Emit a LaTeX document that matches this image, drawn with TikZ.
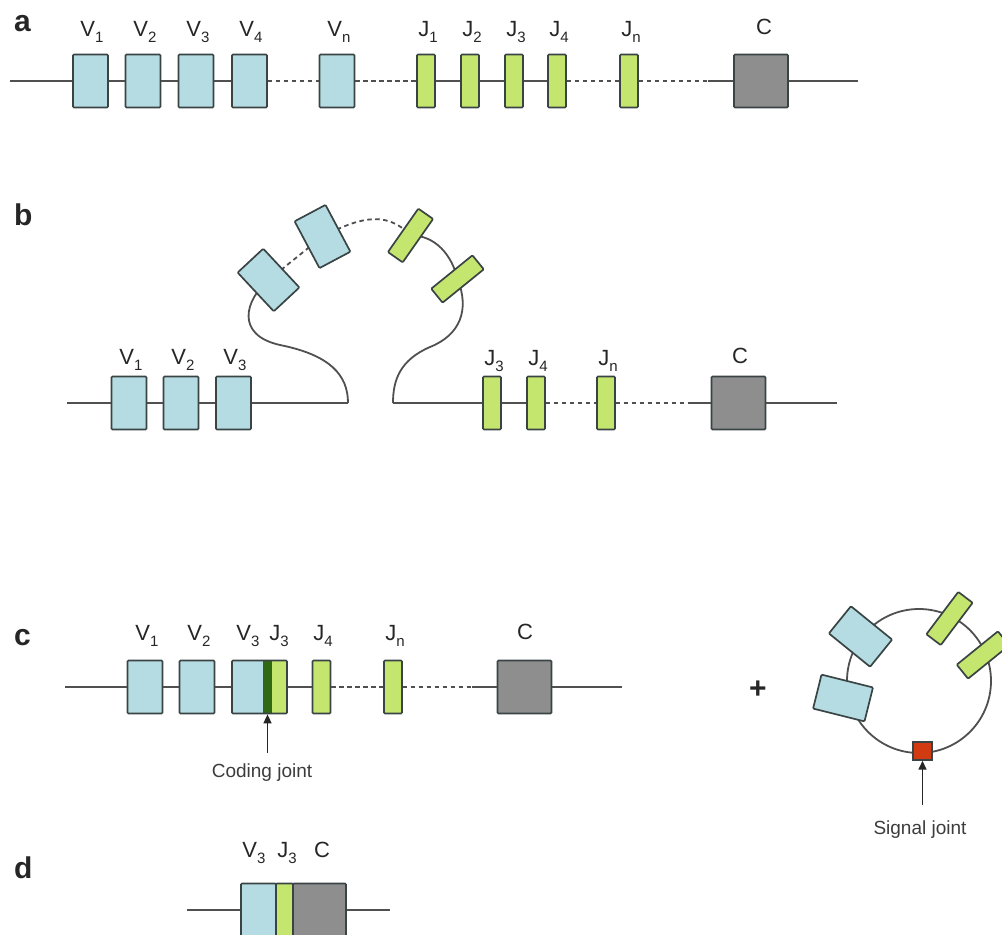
\documentclass[tikz,border=0pt]{standalone}
\usepackage{fontspec}
\setmainfont{Liberation Sans}
\usetikzlibrary{arrows.meta}
\definecolor{vfill}{HTML}{B4DCE2}
\definecolor{jfill}{HTML}{C5E66E}
\definecolor{cfill}{HTML}{8E8E8E}
\definecolor{edge}{HTML}{3A4444}
\definecolor{strand}{HTML}{505050}
\definecolor{joint}{HTML}{2F6A12}
\definecolor{sig}{HTML}{D23A12}
\definecolor{ink}{HTML}{262626}
% gene segment label with a lowered index
\newcommand\seglab[2]{#1\raisebox{-0.3em}{\fontsize{15}{15}\selectfont #2}}
\pgfdeclarelayer{background}
\pgfsetlayers{background,main}
\begin{document}
\begin{tikzpicture}[x=1pt,y=-1pt,
  strandline/.style={draw=strand,line width=1.8pt},
  gapline/.style={strandline,dash pattern=on 4.5pt off 3.5pt},
  vseg/.style={draw=edge,line width=1.7pt,fill=vfill,minimum width=35pt,minimum height=53pt,inner sep=0pt,rounded corners=1pt},
  jseg/.style={vseg,fill=jfill,minimum width=18pt},
  cseg/.style={vseg,fill=cfill,minimum width=54pt},
  lab/.style={font=\fontsize{22}{22}\selectfont,text=ink,anchor=base,inner sep=0pt},
  panel/.style={font=\fontsize{30}{30}\selectfont\bfseries,text=ink,anchor=base west,inner sep=0pt},
  note/.style={font=\fontsize{19}{19}\selectfont,text=ink!90,inner sep=0pt},
  pointer/.style={draw=ink,line width=1.5pt,-{Triangle[length=9pt,width=8pt]}}
]
\useasboundingbox (0,0) rectangle (1002,935);

% ---------------- a: germline locus ----------------
\node[panel] (pa) at (14,31) {a};
\node[vseg] (aV1) at (90.5,81) {};
\node[vseg] (aV2) at (143,81) {};
\node[vseg] (aV3) at (196,81) {};
\node[vseg] (aV4) at (249.5,81) {};
\node[vseg] (aVn) at (337,81) {};
\node[jseg] (aJ1) at (426,81) {};
\node[jseg] (aJ2) at (470,81) {};
\node[jseg] (aJ3) at (514,81) {};
\node[jseg] (aJ4) at (557,81) {};
\node[jseg] (aJn) at (629,81) {};
\node[cseg] (aC) at (761,81) {};
\coordinate (aL) at (10,81);
\coordinate (aR) at (858,81);
\coordinate (aGap) at (708,81);
\draw[strandline] (aL) -- (aV1.west) (aV1.east) -- (aV2.west) (aV2.east) -- (aV3.west) (aV3.east) -- (aV4.west);
\draw[gapline] (aV4.east) -- (aVn.west) (aVn.east) -- (aJ1.west);
\draw[strandline] (aJ1.east) -- (aJ2.west) (aJ2.east) -- (aJ3.west) (aJ3.east) -- (aJ4.west);
\draw[gapline] (aJ4.east) -- (aJn.west) (aJn.east) -- (aGap);
\draw[strandline] (aGap) -- (aC.west) (aC.east) -- (aR);
\node[lab] (laV1) at (92,36) {\seglab{V}{1}};
\node[lab] (laV2) at (145,36) {\seglab{V}{2}};
\node[lab] (laV3) at (198,36) {\seglab{V}{3}};
\node[lab] (laV4) at (251,36) {\seglab{V}{4}};
\node[lab] (laVn) at (339,36) {\seglab{V}{n}};
\node[lab] (laJ1) at (428,36) {\seglab{J}{1}};
\node[lab] (laJ2) at (472,36) {\seglab{J}{2}};
\node[lab] (laJ3) at (516,36) {\seglab{J}{3}};
\node[lab] (laJ4) at (559,36) {\seglab{J}{4}};
\node[lab] (laJn) at (631,36) {\seglab{J}{n}};
\node[lab] (laC) at (764,34) {C};

% ---------------- b: looping out of the intervening DNA ----------------
\node[panel] (pb) at (14,225) {b};
\node[vseg] (bV1) at (129,403) {};
\node[vseg] (bV2) at (181,403) {};
\node[vseg] (bV3) at (233.5,403) {};
\node[jseg] (bJ3) at (492,403) {};
\node[jseg] (bJ4) at (536,403) {};
\node[jseg] (bJn) at (606,403) {};
\node[cseg] (bC) at (738.5,403) {};
\node[vseg,rotate=43] (bT1) at (268.5,280) {};
\node[vseg,rotate=28] (bT2) at (322.5,236.5) {};
\node[jseg,rotate=-35] (bT3) at (410.5,235.5) {};
\node[jseg,rotate=-51] (bT4) at (457.5,279) {};
\coordinate (bL) at (67,403);
\coordinate (bLend) at (348,403);
\coordinate (bRs) at (393,403);
\coordinate (bGap) at (688,403);
\coordinate (bR) at (837,403);
\draw[strandline] (bL) -- (bV1.west) (bV1.east) -- (bV2.west) (bV2.east) -- (bV3.west) (bV3.east) -- (bLend);
\draw[strandline] (bRs) -- (bJ3.west) (bJ3.east) -- (bJ4.west);
\draw[gapline] (bJ4.east) -- (bJn.west) (bJn.east) -- (bGap);
\draw[strandline] (bGap) -- (bC.west) (bC.east) -- (bR);
\begin{pgfonlayer}{background}
  \draw[strandline] (bLend) .. controls (348,375) and (330,355) .. (280,345)
                            .. controls (235,335) and (245,300) .. (bT1.center);
  \draw[gapline] (bT1.center) -- (bT2.center);
  \draw[gapline] (bT2.center) .. controls (355,220) and (385,208) .. (bT3.center);
  \draw[strandline] (bT3.center) .. controls (435,235) and (452,255) .. (bT4.center);
  \draw[strandline] (bT4.center) .. controls (470,310) and (460,335) .. (430,347)
                                 .. controls (400,360) and (393,380) .. (bRs);
\end{pgfonlayer}
\node[lab] (lbV1) at (131,364) {\seglab{V}{1}};
\node[lab] (lbV2) at (183,364) {\seglab{V}{2}};
\node[lab] (lbV3) at (235,364) {\seglab{V}{3}};
\node[lab] (lbJ3) at (494,365) {\seglab{J}{3}};
\node[lab] (lbJ4) at (538,365) {\seglab{J}{4}};
\node[lab] (lbJn) at (608,365) {\seglab{J}{n}};
\node[lab] (lbC) at (740,363) {C};

% ---------------- c: coding joint and excised circle ----------------
\node[panel] (pc) at (14,645) {c};
\node[vseg] (cV1) at (145,687) {};
\node[vseg] (cV2) at (197,687) {};
\node[vseg,draw=none,minimum width=31pt,rounded corners=0pt] (cV3) at (247.5,687) {};
\node[vseg,draw=none,fill=joint,minimum width=9pt,rounded corners=0pt] (cCJ) at (267.5,687) {};
\node[vseg,draw=none,fill=jfill,minimum width=15pt,rounded corners=0pt] (cJ3) at (279.5,687) {};
\node[vseg,fill=none,minimum width=55pt] (cVJ) at (259.5,687) {};
\node[jseg] (cJ4) at (321.5,687) {};
\node[jseg] (cJn) at (393,687) {};
\node[cseg] (cC) at (524.5,687) {};
\coordinate (cL) at (65,687);
\coordinate (cGap) at (472,687);
\coordinate (cR) at (622,687);
\draw[strandline] (cL) -- (cV1.west) (cV1.east) -- (cV2.west) (cV2.east) -- (cVJ.west) (cVJ.east) -- (cJ4.west);
\draw[gapline] (cJ4.east) -- (cJn.west) (cJn.east) -- (cGap);
\draw[strandline] (cGap) -- (cC.west) (cC.east) -- (cR);
\node[lab] (lcV1) at (147,640) {\seglab{V}{1}};
\node[lab] (lcV2) at (199,640) {\seglab{V}{2}};
\node[lab] (lcV3) at (248,640) {\seglab{V}{3}};
\node[lab] (lcJ3) at (279,640) {\seglab{J}{3}};
\node[lab] (lcJ4) at (323,640) {\seglab{J}{4}};
\node[lab] (lcJn) at (395,640) {\seglab{J}{n}};
\node[lab] (lcC) at (525,639) {C};
\node[note] (cjtext) at (262,773) {Coding joint};
\coordinate (cjfoot) at (267.5,753);
\draw[pointer] (cjfoot) -- (cCJ.south);

\node[font=\fontsize{30}{30}\selectfont\bfseries,text=ink,inner sep=0pt] (plus) at (758,690) {+};
\coordinate (ring) at (919,681);
\begin{pgfonlayer}{background}
  \draw[strandline] (ring) circle[radius=72];
\end{pgfonlayer}
\node[vseg,rotate=51] (cT1) at (860.5,636.5) {};
\node[vseg,rotate=76] (cT2) at (843,698) {};
\node[jseg,rotate=-37] (cT3) at (949.5,618.5) {};
\node[jseg,rotate=-51] (cT4) at (983,655) {};
\node[draw=edge,line width=1.4pt,fill=sig,minimum width=19pt,minimum height=18pt,inner sep=0pt] (cS) at (922.5,751) {};
\node[note] (sjtext) at (920,830) {Signal joint};
\coordinate (sjfoot) at (922.5,805);
\draw[pointer] (sjfoot) -- (cS.south);

% ---------------- d: rearranged gene after splicing ----------------
\node[panel] (pd) at (14,878) {d};
\node[vseg] (dV3) at (258.5,910) {};
\node[jseg,minimum width=17pt] (dJ3) at (284.5,910) {};
\node[cseg,minimum width=53pt] (dC) at (319.5,910) {};
\coordinate (dL) at (187,910);
\coordinate (dR) at (390,910);
\draw[strandline] (dL) -- (dV3.west) (dC.east) -- (dR);
\node[lab] (ldV3) at (254,857) {\seglab{V}{3}};
\node[lab] (ldJ3) at (287,857) {\seglab{J}{3}};
\node[lab] (ldC) at (322,857) {C};
\end{tikzpicture}
\end{document}
